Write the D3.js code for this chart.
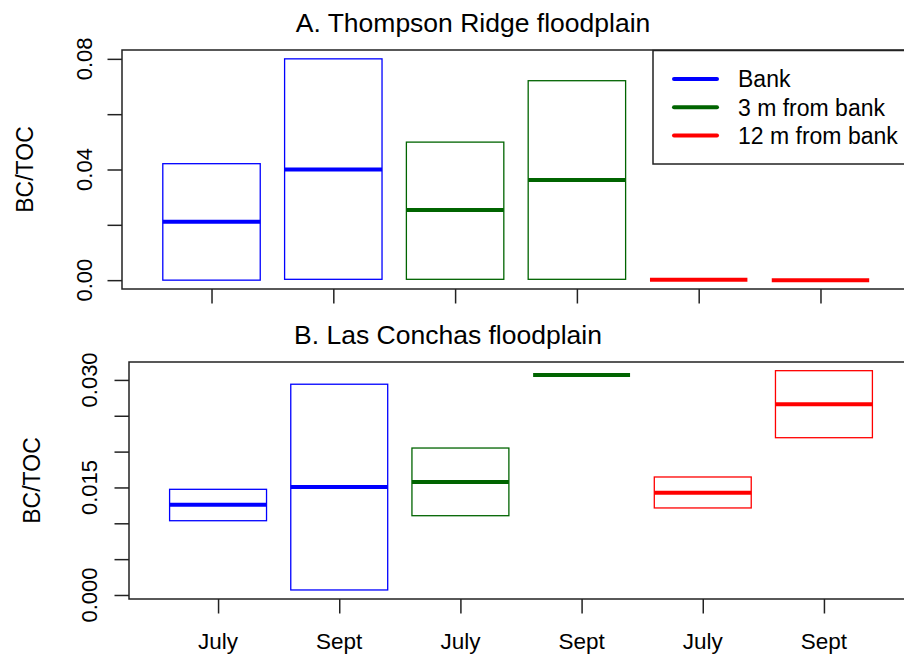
<!DOCTYPE html>
<html lang="en">
<head>
    <meta charset="UTF-8">
    <title>BC/TOC floodplains</title>
    <style>
        body { margin: 0; background: #fff; }
        text { font-family: "Liberation Sans", Arial, Helvetica, sans-serif; fill: #000; }
        .frame { fill: none; stroke: #222; stroke-width: 1.5px; }
        .tick line { stroke: #222; stroke-width: 1.5px; }
    </style>
    <script src="https://d3js.org/d3.v7.min.js"></script>
</head>
<body>
    <script>
        // data
        const groups = ["Bank", "Bank", "3 m from bank", "3 m from bank", "12 m from bank", "12 m from bank"];
        const months = ["July", "Sept", "July", "Sept", "July", "Sept"];
        const legendLabels = ["Bank", "3 m from bank", "12 m from bank"];
        const legendColors = ["#0000ff", "#006400", "#ff0000"];

        // panel A: Thompson Ridge
        const lowA = [0.0000, 0.0003, 0.0003, 0.0003, 0.0001, 0.0000];
        const medA = [0.0211, 0.0400, 0.0254, 0.0362, 0.0001, 0.0000];
        const highA = [0.0421, 0.0800, 0.0499, 0.0721, 0.0001, 0.0000];
        const ticksA = [0, 0.02, 0.04, 0.06, 0.08];
        const labelsA = ["0.00", "", "0.04", "", "0.08"];

        // panel B: Las Conchas
        const lowB = [0.01036, 0.0007, 0.01106, 0.0307, 0.01214, 0.02194];
        const medB = [0.0126, 0.01507, 0.01576, 0.0307, 0.01427, 0.0266];
        const highB = [0.01474, 0.0294, 0.0205, 0.0307, 0.01646, 0.03129];
        const ticksB = [0, 0.005, 0.01, 0.015, 0.02, 0.025, 0.03];
        const labelsB = ["0.000", "", "", "0.015", "", "", "0.030"];

        const W = 904, H = 655;
        const color = d3.scaleOrdinal().domain(legendLabels).range(legendColors);

        const svg = d3.select("body").append("svg")
            .attr("width", W).attr("height", H);

        function panel(opt) {
            const g = svg.append("g");
            const x = d3.scaleLinear().domain([0.265, 6.735]).range([opt.left, opt.right]);
            const y = d3.scaleLinear().domain(opt.ydom).range([opt.bottom, opt.top]);
            const hw = 0.4;

            // boxes
            const rows = groups.map((grp, i) => ({ i: i + 1, grp, lo: opt.low[i], md: opt.med[i], hi: opt.high[i] }));
            const box = g.selectAll("g.box").data(rows).enter().append("g").attr("class", "box");
            box.filter(d => d.hi > d.lo).append("rect")
                .attr("x", d => x(d.i - hw))
                .attr("y", d => y(d.hi))
                .attr("width", d => x(d.i + hw) - x(d.i - hw))
                .attr("height", d => y(d.lo) - y(d.hi))
                .attr("fill", "none")
                .attr("stroke", d => color(d.grp))
                .attr("stroke-width", 1.3);
            box.append("line")
                .attr("x1", d => x(d.i - hw)).attr("x2", d => x(d.i + hw))
                .attr("y1", d => y(d.md)).attr("y2", d => y(d.md))
                .attr("stroke", d => color(d.grp))
                .attr("stroke-width", 4);

            // frame
            g.append("rect").attr("class", "frame")
                .attr("x", opt.left).attr("y", opt.top)
                .attr("width", opt.right - opt.left).attr("height", opt.bottom - opt.top);

            // y axis
            const ya = g.append("g")
                .attr("transform", `translate(${opt.left},0)`)
                .call(d3.axisLeft(y).tickValues(opt.ticks).tickSize(14.5).tickFormat(""));
            ya.select(".domain").remove();
            g.selectAll("text.ylab").data(opt.ticks).enter().append("text")
                .attr("class", "ylab")
                .attr("transform", d => `translate(${opt.labX},${y(d)}) rotate(-90)`)
                .attr("text-anchor", "middle")
                .style("font-size", "22px")
                .text((d, i) => opt.labels[i]);

            // x axis
            const xa = g.append("g")
                .attr("transform", `translate(0,${opt.bottom})`)
                .call(d3.axisBottom(x).tickValues(d3.range(1, 7)).tickSize(14.5).tickFormat(""));
            xa.select(".domain").remove();
            if (opt.months) {
                g.selectAll("text.xlab").data(months).enter().append("text")
                    .attr("class", "xlab")
                    .attr("x", (d, i) => x(i + 1))
                    .attr("y", opt.bottom + 49.5)
                    .attr("text-anchor", "middle")
                    .style("font-size", "22.5px")
                    .text(d => d);
            }

            // y title
            g.append("text")
                .attr("transform", `translate(${opt.titleX},${(opt.top + opt.bottom) / 2}) rotate(-90)`)
                .attr("text-anchor", "middle")
                .style("font-size", "23px")
                .text("BC/TOC");

            // main title
            g.append("text")
                .attr("x", opt.mainX).attr("y", opt.top - 18.5)
                .attr("text-anchor", "middle")
                .style("font-size", "26.5px")
                .text(opt.main);
            return g;
        }

        panel({
            left: 122, right: 910, top: 50, bottom: 289,
            ydom: [-0.0032, 0.0832], low: lowA, med: medA, high: highA,
            ticks: ticksA, labels: labelsA, labX: 92, titleX: 33,
            main: "A. Thompson Ridge floodplain", mainX: 473, months: false
        });
        panel({
            left: 129, right: 913, top: 362, bottom: 599,
            ydom: [-0.00056, 0.0325], low: lowB, med: medB, high: highB,
            ticks: ticksB, labels: labelsB, labX: 97, titleX: 40,
            main: "B. Las Conchas floodplain", mainX: 448, months: true
        });

        // legend
        const leg = svg.append("g");
        leg.append("rect")
            .attr("x", 653).attr("y", 50.5).attr("width", 270).attr("height", 113.5)
            .attr("fill", "#fff").attr("stroke", "#222").attr("stroke-width", 1.5);
        const item = leg.selectAll("g.item").data(legendLabels).enter().append("g")
            .attr("transform", (d, i) => `translate(0,${79 + i * 28.3})`);
        item.append("line")
            .attr("x1", 674).attr("x2", 717)
            .attr("stroke", d => color(d))
            .attr("stroke-width", 4).attr("stroke-linecap", "round");
        item.append("text")
            .attr("x", 738).attr("dy", "0.36em")
            .style("font-size", "23px")
            .text(d => d);
    </script>
</body>
</html>
